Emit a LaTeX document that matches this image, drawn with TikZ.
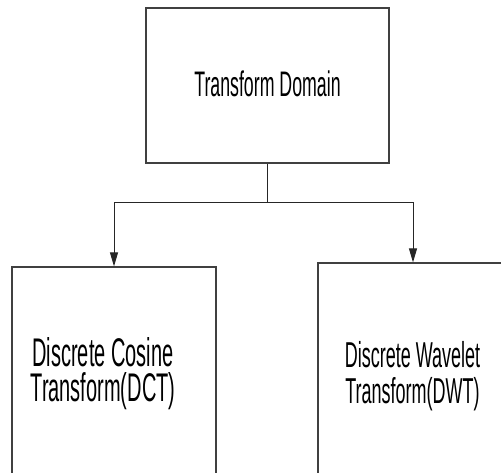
\documentclass[tikz,border=0pt]{standalone}
\usepackage{fontspec}
\setmainfont[FakeStretch=0.5]{Liberation Sans}
\usetikzlibrary{arrows.meta, positioning}

\begin{document}
\begin{tikzpicture}[
          x=1pt, y=-1pt,
          box/.style={rectangle, draw=black!75, line width=1.2pt},
          boxtext/.style={align=center, anchor=north, inner sep=0pt},
          link/.style={draw=black!85, line width=1pt, -{Triangle[length=14pt, width=8pt]}}
        ]
          \useasboundingbox (0,0) rectangle (501,472);
          \clip (0,0) rectangle (501,472);
          \node[box, minimum width=243pt, minimum height=155pt, text height=22.5pt, text depth=0pt,
                font=\fontsize{35.5}{40}\selectfont] (domain) at (267.5,85.5) {Transform Domain};
          \node[box, minimum width=204pt, minimum height=260pt] (dct) at (114,397) {};
          \node[box, minimum width=190pt, minimum height=260pt] (dwt) at (413,393) {};
          \node[boxtext, font=\fontsize{40}{35}\selectfont] (dcttext) at (103,337)
            {Discrete Cosine\\Transform(DCT)};
          \node[boxtext, font=\fontsize{36}{36.5}\selectfont] (dwttext) at (412.5,341)
            {Discrete Wavelet\\Transform(DWT)};
          \draw[black!85, line width=1pt] (domain.south) -- ++(0,39) coordinate (split);
          \draw[link] (split) -| (dct.north);
          \draw[link] (split) -| (dwt.north);
        \end{tikzpicture}
\end{document}
